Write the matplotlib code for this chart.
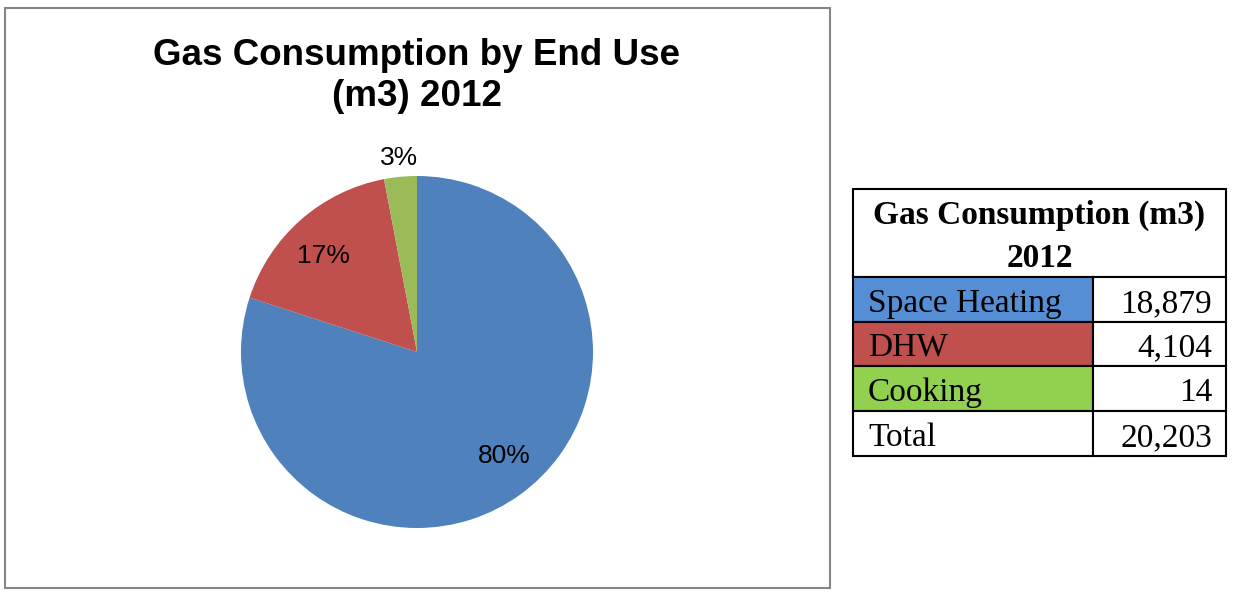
import matplotlib.pyplot as plt
from matplotlib.patches import Rectangle
import numpy as np

# Pie data (shares shown on the chart)
pie_labels = ["Space Heating", "DHW", "Cooking"]
pie_shares = [80, 17, 3]
pie_colors = ["#4F81BD", "#C0504D", "#9BBB59"]

# Summary table
table_title = ["Gas Consumption (m3)", "2012"]
table_rows = ["Space Heating", "DHW", "Cooking", "Total"]
table_values = ["18,879", "4,104", "14", "20,203"]
table_colors = ["#558ED5", "#C0504D", "#92D050", "white"]

W, H = 1233, 592
fig = plt.figure(figsize=(W / 100, H / 100), dpi=100)


def px_box(x0, y0, x1, y1):
    return [x0 / W, 1 - y1 / H, (x1 - x0) / W, (y1 - y0) / H]


# Chart frame
fig.patches.append(Rectangle((5 / W, 1 - 588 / H), 825 / W, 580 / H,
                             transform=fig.transFigure, fill=False,
                             edgecolor="#868686", lw=1.5))

fig.text(417 / W, 1 - 76 / H, "Gas Consumption by End Use\n(m3) 2012",
         ha="center", va="center", fontsize=26.5, fontweight="bold",
         family="Liberation Sans", linespacing=1.22)

# Pie
cx, cy, r = 417, 352, 176
ax = fig.add_axes(px_box(cx - r, cy - r, cx + r, cy + r))
wedges, _ = ax.pie(pie_shares, colors=pie_colors, startangle=90,
                   counterclock=False, radius=1.0,
                   wedgeprops=dict(linewidth=0))
ax.set_xlim(-1, 1)
ax.set_ylim(-1, 1)
ax.set_aspect("equal")
ax.axis("off")

# Label placement along each wedge's bisector (distance, angular nudge in deg)
label_dist = [0.77, 0.76, 1.11]
label_turn = [4, 3, 0]
for w, share, d, t in zip(wedges, pie_shares, label_dist, label_turn):
    mid = np.deg2rad((w.theta1 + w.theta2) / 2 + t)
    ax.text(d * np.cos(mid), d * np.sin(mid), f"{share}%",
            ha="center", va="center", fontsize=19,
            family="Liberation Sans", clip_on=False)

# Table
tx0, tx1, tcol = 853, 1226, 1093
ty = [189, 277, 322, 366, 411, 456]
tax = fig.add_axes(px_box(tx0 - 5, ty[0] - 5, tx1 + 5, ty[-1] + 5))
tax.set_xlim(tx0 - 5, tx1 + 5)
tax.set_ylim(ty[-1] + 5, ty[0] - 5)
tax.axis("off")

tax.add_patch(Rectangle((tx0, ty[0]), tx1 - tx0, ty[1] - ty[0],
                        facecolor="white", edgecolor="black", lw=1.5))
for line, base in zip(table_title, [224, 267]):
    tax.text((tx0 + tx1) / 2, base, line, ha="center", va="baseline",
             fontsize=24, fontweight="bold", family="Liberation Serif")

for i, (name, val, col) in enumerate(zip(table_rows, table_values, table_colors)):
    y0, y1 = ty[i + 1], ty[i + 2]
    tax.add_patch(Rectangle((tx0, y0), tcol - tx0, y1 - y0,
                            facecolor=col, edgecolor="black", lw=1.5))
    tax.add_patch(Rectangle((tcol, y0), tx1 - tcol, y1 - y0,
                            facecolor="white", edgecolor="black", lw=1.5))
    base = y1 - 10
    tax.text(tx0 + 15, base, name, ha="left", va="baseline",
             fontsize=24, family="Liberation Serif")
    tax.text(tx1 - 14, base, val, ha="right", va="baseline",
             fontsize=24, family="Liberation Serif")

fig.savefig("out.png", dpi=100, facecolor="white")
